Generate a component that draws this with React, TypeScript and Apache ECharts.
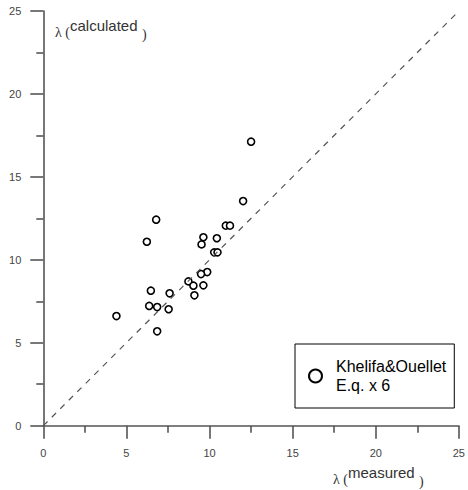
import React, { useEffect, useRef } from "react";
import * as echarts from "echarts";

const measured = [12.5, 12.02, 6.79, 10.98, 11.23, 9.63, 10.44, 6.23, 9.52, 10.28, 10.48, 9.86, 9.49, 8.73, 9.03, 9.63, 6.47, 7.6, 9.09, 6.37, 6.85, 7.54, 4.4, 6.85];
const calculated = [17.12, 13.54, 12.42, 12.06, 12.06, 11.36, 11.3, 11.09, 10.93, 10.45, 10.45, 9.26, 9.14, 8.7, 8.44, 8.46, 8.14, 7.98, 7.86, 7.22, 7.15, 7.02, 6.61, 5.69];
const refLine = [[0, 0], [25, 25]];
const seriesName = "Khelifa&Ouellet\nE.q. x 6";

const FONT = "'Liberation Sans', Arial, sans-serif";
const SERIF = "'Liberation Serif', 'DejaVu Serif', serif";

export default function App() {
  const ref = useRef<HTMLDivElement>(null);
  useEffect(() => {
    if (!ref.current) return;
    const chart = echarts.init(ref.current, undefined, { renderer: "svg" });
    const axisCommon = {
      type: "value",
      min: 0,
      max: 25,
      interval: 5,
      axisLine: { show: true, onZero: false, lineStyle: { color: "#555", width: 1.6 } },
      axisTick: { show: true, inside: false, length: 13, lineStyle: { color: "#555", width: 1.6 } },
      minorTick: { show: true, splitNumber: 2, length: 7, lineStyle: { color: "#555", width: 1.6 } },
      splitLine: { show: false },
      axisLabel: { color: "#444", fontSize: 11, fontFamily: FONT, showMaxLabel: true, showMinLabel: true },
    };
    chart.setOption({
      animation: false,
      backgroundColor: "#fff",
      grid: { left: 43.3, right: 4.3, top: 11, bottom: 64.3, containLabel: false },
      xAxis: { ...axisCommon, axisLabel: { ...axisCommon.axisLabel, margin: 22 } },
      yAxis: { ...axisCommon, axisLabel: { ...axisCommon.axisLabel, margin: 22 } },
      legend: {
        show: true,
        left: 295,
        top: 344,
        orient: "vertical",
        padding: [13, 8, 13, 13],
        borderColor: "#000",
        borderWidth: 1,
        backgroundColor: "#fff",
        itemWidth: 13,
        itemHeight: 13,
        itemGap: 0,
        icon: "circle",
        itemStyle: { color: "#fff", borderColor: "#000", borderWidth: 2 },
        textStyle: { fontSize: 16, lineHeight: 19, color: "#000", fontFamily: FONT, padding: [0, 0, 0, 9] },
        data: [seriesName],
      },
      series: [
        {
          type: "line",
          data: refLine,
          symbol: "none",
          silent: true,
          lineStyle: { color: "#555", width: 1.2, type: [6, 6] },
        },
        {
          name: seriesName,
          type: "scatter",
          data: measured.map((m, i) => [m, calculated[i]]),
          symbol: "circle",
          symbolSize: 7,
          itemStyle: { color: "#fff", borderColor: "#000", borderWidth: 1.6, opacity: 1 },
        },
      ],
      graphic: [
        { type: "text", left: 55, top: 25, style: { text: "λ (", font: `14px ${SERIF}`, fill: "#333" } },
        { type: "text", left: 70, top: 18, style: { text: "calculated", font: `15px ${FONT}`, fill: "#333" } },
        { type: "text", left: 142, top: 27, style: { text: ")", font: `14px ${SERIF}`, fill: "#333" } },
        { type: "text", left: 333, top: 472, style: { text: "λ (", font: `14px ${SERIF}`, fill: "#333" } },
        { type: "text", left: 348, top: 465, style: { text: "measured", font: `15px ${FONT}`, fill: "#333" } },
        { type: "text", left: 419, top: 474, style: { text: ")", font: `14px ${SERIF}`, fill: "#333" } },
      ],
    });
    return () => chart.dispose();
  }, []);
  return <div ref={ref} style={{ width: 468, height: 490, position: "absolute", left: 0, top: 0 }} />;
}
